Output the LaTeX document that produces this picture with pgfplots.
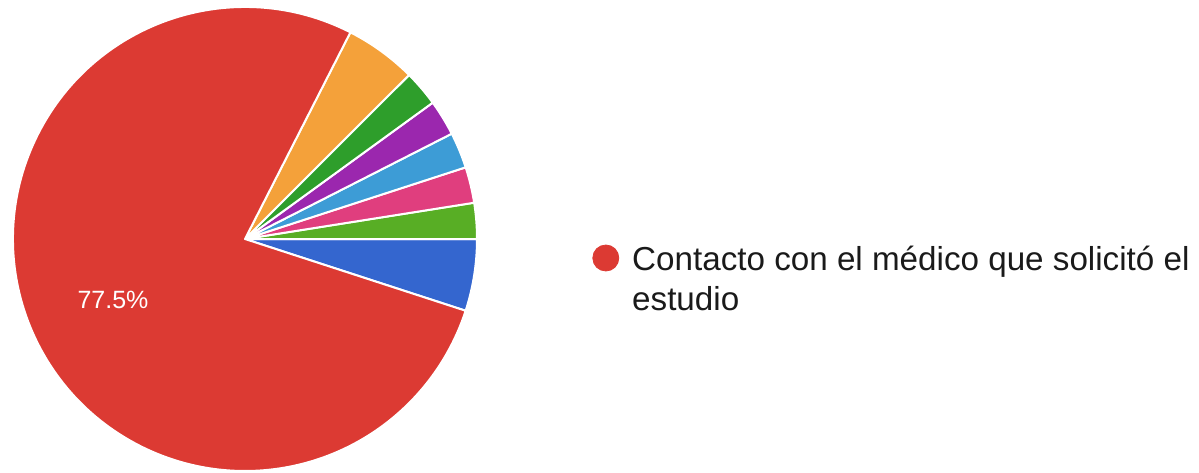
\documentclass[border=0pt]{standalone}
\usepackage{fontspec}
\setmainfont{Liberation Sans}
\usepackage{pgfplots}
\usepackage{pgfplotstable}
\pgfplotsset{compat=1.18}
\definecolor{piered}{HTML}{DC3A33}
\definecolor{pieorange}{HTML}{F4A13A}
\definecolor{piegreen}{HTML}{2E9E2B}
\definecolor{piepurple}{HTML}{9B27AE}
\definecolor{piecyan}{HTML}{3D9CD6}
\definecolor{piepink}{HTML}{E03E7E}
\definecolor{pielime}{HTML}{58AE25}
\definecolor{pieblue}{HTML}{3466CF}
\definecolor{legtext}{HTML}{1A1A1A}
% responses per category, in counter-clockwise order starting at -18 degrees
\pgfplotstableread{
value color
2 pieblue
1 pielime
1 piepink
1 piecyan
1 piepurple
1 piegreen
2 pieorange
31 piered
}\piedata
\begin{document}
\begin{tikzpicture}
\begin{axis}[
  hide axis, scale only axis,
  width=599.5pt, height=236pt,
  xmin=0, xmax=1199, ymin=0, ymax=472,
  clip=false,
  legend style={at={(axis cs:592,214)}, anchor=west, draw=none, fill=none,
    font=\fontsize{16.6}{20}\selectfont\color{legtext}, legend cell align=left,
    inner sep=0pt},
  legend image code/.code={\fill[piered] (0.25cm,0) circle[radius=6.5pt];},
]
\def\angstart{-18}
\pgfplotsforeachungrouped \i in {0,...,7}{%
  \pgfplotstablegetelem{\i}{value}\of\piedata \let\v\pgfplotsretval
  \pgfplotstablegetelem{\i}{color}\of\piedata \let\c\pgfplotsretval
  \pgfmathsetmacro\angend{\angstart+\v/40*360}%
  \edef\temp{\noexpand\fill[\c, draw=white, line width=1pt, line join=round]
    (axis cs:245,233) -- ++(axis direction cs:{232*cos(\angstart)},{232*sin(\angstart)})
    arc[start angle=\angstart, end angle=\angend, radius=116pt] -- cycle;}%
  \temp
  \global\let\angstart\angend
}
\node[text=white, font=\fontsize{12.5}{15}\selectfont] at (axis cs:113,172) {77.5\%};
\addlegendimage{}
\addlegendentry{\begin{tabular}[t]{@{\hspace{4.5pt}}l@{}}Contacto con el médico que solicitó el\\estudio\end{tabular}}
\end{axis}
\pgfresetboundingbox
\useasboundingbox (current axis.south west) rectangle (current axis.north east);
\end{tikzpicture}
\end{document}
